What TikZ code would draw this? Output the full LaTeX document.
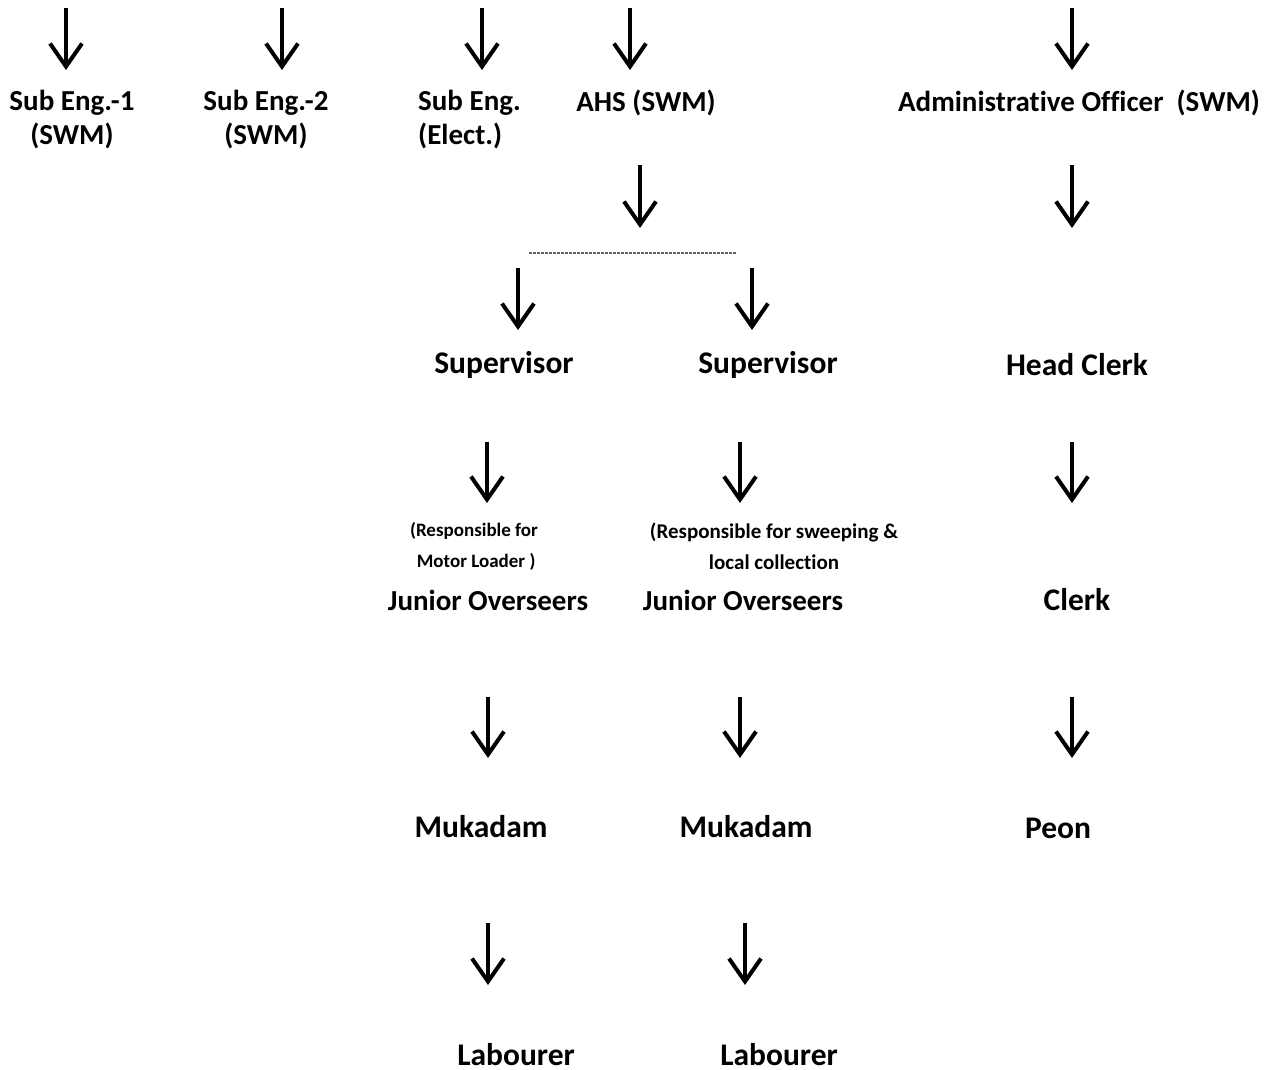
\documentclass[tikz,border=0pt]{standalone}
\usepackage{fontspec}
\setmainfont[Ligatures=NoCommon]{Carlito}
\usetikzlibrary{arrows.meta}
\begin{document}
\begin{tikzpicture}[x=1pt,y=-1pt,
  lbl/.style={font=\bfseries\fontsize{29}{34}\selectfont, inner sep=0pt, align=center},
  big/.style={font=\bfseries\fontsize{31.5}{34}\selectfont, inner sep=0pt, align=center},
  bigone/.style={font=\bfseries\fontsize{31.5}{34}\selectfont, inner sep=0pt},
  sml/.style={font=\bfseries\fontsize{19}{31}\selectfont, inner sep=0pt, align=center},
  smlb/.style={font=\bfseries\fontsize{21}{31}\selectfont, inner sep=0pt, align=center},
  arr/.style={line width=3.8pt, -{Straight Barb[length=23pt,width=32pt,line width=4pt]}}]
\useasboundingbox (0,0) rectangle (1273,1069);
% labels
\node[lbl] (se1) at (72,120) {Sub Eng.-1\\(SWM)};
\node[lbl] (se2) at (266,120) {Sub Eng.-2\\(SWM)};
\node[lbl, align=left, anchor=west] (see) at (418,120) {Sub Eng.\\(Elect.)};
\node[lbl] (ahs) at (646,103) {AHS (SWM)};
\node[lbl] (ao) at (1079,103) {Administrative Officer\ \ (SWM)};
\node[big] (sup1) at (504,365) {Supervisor};
\node[big] (sup2) at (768,365) {Supervisor};
\node[big] (hc) at (1077,365) {Head Clerk};
\node[sml] (r1) at (474,546) {(Responsible for\\ \ Motor Loader )};
\node[smlb] (r2) at (774,546) {(Responsible for sweeping \&\\local collection};
\node[lbl] (jo1) at (488,600) {Junior Overseers};
\node[lbl] (jo2) at (743,600) {Junior Overseers};
\node[big] (cl) at (1077,600) {Clerk};
\node[big] (mk1) at (481,827) {Mukadam};
\node[big] (mk2) at (746,827) {Mukadam};
\node[big] (pe) at (1058,828) {Peon};
\node[bigone, anchor=base] (lb1) at (516,1065) {Labourer};
\node[bigone, anchor=base] (lb2) at (779,1065) {Labourer};
% arrow endpoints
\foreach \n/\x/\a/\b in {t1/66/8/70, t2/282/8/70, t3/482/8/70, t4/630/8/70, t5/1072/8/70,
  m1/640/165/228, m2/1072/165/228,
  s1/518/268/330, s2/752/268/330,
  j1/487/442/503, j2/740/442/503, j3/1072/442/503,
  k1/488/697/758, k2/740/697/758, k3/1072/697/758,
  l1/488/923/985, l2/745/923/985}{
  \coordinate (\n a) at (\x,\a);
  \coordinate (\n b) at (\x,\b);
  \draw[arr] (\n a) -- (\n b);
}
\coordinate (dl) at (529,253);
\coordinate (dr) at (736,253);
\draw[black!60, line width=1.3pt, dash pattern=on 3pt off 1pt] (dl) -- (dr);
\end{tikzpicture}
\end{document}
